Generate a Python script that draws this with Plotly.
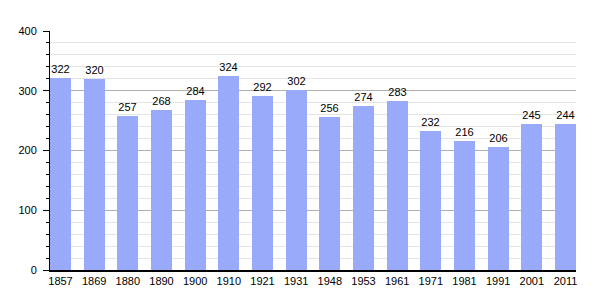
import plotly.graph_objects as go

years = ["1857", "1869", "1880", "1890", "1900", "1910", "1921", "1931", "1948",
         "1953", "1961", "1971", "1981", "1991", "2001", "2011"]
population = [322, 320, 257, 268, 284, 324, 292, 302, 256, 274, 283, 232, 216, 206, 245, 244]

bar_w = 0.624

fig = go.Figure(go.Bar(
    x=years, y=population,
    marker=dict(color="#99aafb", line=dict(width=0)),
    width=bar_w,
    text=[str(v) for v in population],
    textposition="outside",
    textfont=dict(family="Liberation Sans, Arial, sans-serif", size=11, color="#000"),
    cliponaxis=False,
))

fig.update_layout(
    width=605, height=300,
    margin=dict(l=50, r=29, t=31, b=30),
    plot_bgcolor="white", paper_bgcolor="white",
    showlegend=False,
    font=dict(family="Liberation Sans, Arial, sans-serif", size=11, color="#000"),
    xaxis=dict(
        type="category",
        range=[-bar_w / 2, len(years) - 1 + bar_w / 2],
        showline=True, linecolor="#000", linewidth=1.5,
        ticks="", showgrid=False,
        tickfont=dict(size=11),
    ),
    yaxis=dict(
        range=[0, 400],
        dtick=100,
        showline=True, linecolor="#000", linewidth=1,
        ticks="outside", ticklen=6, tickcolor="#000", tickwidth=1,
        ticklabelstandoff=4,
        showgrid=True, gridcolor="#b0b0b0", gridwidth=1,
        zeroline=False,
        tickfont=dict(size=11),
        minor=dict(dtick=20, ticks="outside", ticklen=3, tickcolor="#000",
                   showgrid=True, gridcolor="#e4e4e4", gridwidth=1),
    ),
    bargap=0,
)

fig.write_html("out.html")
